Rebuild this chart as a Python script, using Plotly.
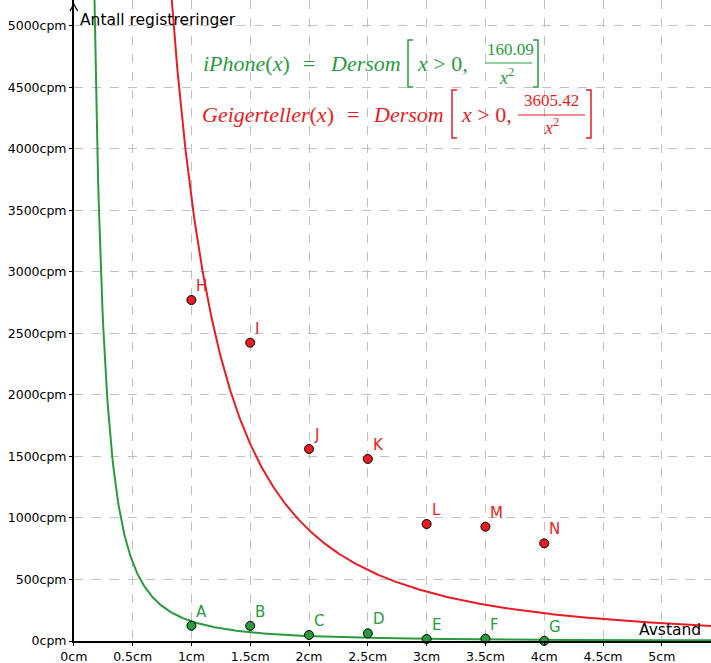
import numpy as np
import plotly.graph_objects as go

# ---------------- data ----------------
iphone_labels = ["A", "B", "C", "D", "E", "F", "G"]
iphone_x = [1.0, 1.5, 2.0, 2.5, 3.0, 3.5, 4.0]
iphone_y = [124, 123, 49, 62, 16, 19, 1]

geiger_labels = ["H", "I", "J", "K", "L", "M", "N"]
geiger_x = [1.0, 1.5, 2.0, 2.5, 3.0, 3.5, 4.0]
geiger_y = [2772, 2425, 1561, 1480, 951, 929, 794]

iphone_k = 160.09
geiger_k = 3605.42

x_ticks = [0, 0.5, 1, 1.5, 2, 2.5, 3, 3.5, 4, 4.5, 5]
x_ticktext = ["0cm", "0.5cm", "1cm", "1.5cm", "2cm", "2.5cm", "3cm", "3.5cm", "4cm", "4.5cm", "5cm"]
y_ticks = [0, 500, 1000, 1500, 2000, 2500, 3000, 3500, 4000, 4500, 5000]
y_ticktext = [f"{v}cpm" for v in y_ticks]

# ---------------- style ----------------
GREEN = "rgb(40,155,60)"
RED = "rgb(232,28,36)"
W, H = 711, 663
X0PX, Y0PX = 73.8, 22.0  # axis origin offset (left / bottom)
XMAX, YMAX = 5.418, 5211

xs_g = np.linspace(np.sqrt(iphone_k / YMAX) * 0.98, XMAX, 800)
xs_r = np.linspace(np.sqrt(geiger_k / YMAX) * 0.98, XMAX, 800)

fig = go.Figure()
fig.add_trace(go.Scatter(x=xs_g, y=iphone_k / xs_g**2, mode="lines",
                         line=dict(color=GREEN, width=2), hoverinfo="skip"))
fig.add_trace(go.Scatter(x=xs_r, y=geiger_k / xs_r**2, mode="lines",
                         line=dict(color=RED, width=2), hoverinfo="skip"))
fig.add_trace(go.Scatter(x=iphone_x, y=iphone_y, mode="markers", cliponaxis=False,
                         marker=dict(size=9, color=GREEN, line=dict(color="black", width=1))))
fig.add_trace(go.Scatter(x=geiger_x, y=geiger_y, mode="markers", cliponaxis=False,
                         marker=dict(size=9, color=RED, line=dict(color="black", width=1))))


def px(xp):
    return xp / W


def py(yp):
    return 1 - yp / H


ann = []
shapes = []
SERIF = "Liberation Serif"

# point labels
for labels, xs, ys, col in [(iphone_labels, iphone_x, iphone_y, GREEN),
                            (geiger_labels, geiger_x, geiger_y, RED)]:
    for lab, xv, yv in zip(labels, xs, ys):
        ann.append(dict(text=lab, x=xv, y=yv, xref="x", yref="y", showarrow=False,
                        xanchor="left", yanchor="bottom", xshift=3, yshift=3,
                        font=dict(family="DejaVu Sans", size=15, color=col)))


def txt(s, x, y, color, size=22, xanchor="left", family=SERIF):
    ann.append(dict(text=s, x=px(x), y=py(y), xref="paper", yref="paper",
                    xanchor=xanchor, yanchor="middle", showarrow=False,
                    font=dict(family=family, size=size, color=color)))


def bracket(x1, x2, ytop, ybot, color, left=True):
    if left:
        path = f"M {px(x2)} {py(ytop)} L {px(x1)} {py(ytop)} L {px(x1)} {py(ybot)} L {px(x2)} {py(ybot)}"
    else:
        path = f"M {px(x1)} {py(ytop)} L {px(x2)} {py(ytop)} L {px(x2)} {py(ybot)} L {px(x1)} {py(ybot)}"
    shapes.append(dict(type="path", path=path, xref="paper", yref="paper",
                       line=dict(color=color, width=1.5)))


def hline(x1, x2, y, color):
    shapes.append(dict(type="line", x0=px(x1), x1=px(x2), y0=py(y), y1=py(y),
                       xref="paper", yref="paper", line=dict(color=color, width=1.2)))


# iPhone formula
txt("<i>iPhone</i>(<i>x</i>)", 201, 64, GREEN)
txt("=", 301, 64, GREEN)
txt("<i>Dersom</i>", 328, 64, GREEN)
bracket(408, 413, 40, 87, GREEN, left=True)
txt("<i>x</i> > 0,", 415, 64, GREEN)
txt("160.09", 510, 50, GREEN, size=17, xanchor="center")
hline(485, 532, 63, GREEN)
txt("<i>x</i><sup>2</sup>", 506, 76, GREEN, size=18, xanchor="center")
bracket(533, 538, 40, 87, GREEN, left=False)

# Geigerteller formula
txt("<i>Geigerteller</i>(<i>x</i>)", 200, 114, RED)
txt("=", 345, 114, RED)
txt("<i>Dersom</i>", 371, 114, RED)
bracket(452, 457, 90, 138, RED, left=True)
txt("<i>x</i> > 0,", 459, 114, RED)
txt("3605.42", 551, 100, RED, size=17, xanchor="center")
hline(518, 585, 115, RED)
txt("<i>x</i><sup>2</sup>", 551, 127, RED, size=18, xanchor="center")
bracket(586, 591, 90, 138, RED, left=False)

# axis titles
txt("Antall registreringer", 78, 20, "black", size=15.5, family="DejaVu Sans")
txt("Avstand", 703, 630, "black", size=15.5, xanchor="right", family="DejaVu Sans")

# y-axis arrow head
shapes.append(dict(type="path",
                   path=f"M {px(X0PX-3.8)} {py(11)} L {px(X0PX)} {py(4)} L {px(X0PX+3.8)} {py(11)}",
                   xref="paper", yref="paper", line=dict(color="black", width=1.3)))

axis_common = dict(showgrid=True, gridcolor="rgb(192,192,192)", griddash="dash", gridwidth=1,
                   zeroline=False, showline=True, linecolor="black", linewidth=1.5,
                   ticks="outside", ticklen=3, tickcolor="black", automargin=False,
                   tickfont=dict(family="DejaVu Sans", size=12.5, color="black"))

fig.update_layout(
    width=W, height=H,
    margin=dict(l=0, r=0, t=0, b=0, autoexpand=False),
    paper_bgcolor="white", plot_bgcolor="white",
    showlegend=False,
    annotations=ann, shapes=shapes,
    xaxis=dict(domain=[X0PX / W, 1], range=[0, XMAX], tickvals=x_ticks, ticktext=x_ticktext,
               **axis_common),
    yaxis=dict(domain=[Y0PX / H, 1], range=[0, YMAX], tickvals=y_ticks, ticktext=y_ticktext,
               **axis_common),
)

fig.write_html("out.html", config={"displayModeBar": False},
               post_script="document.body.style.margin='0';document.body.style.overflow='hidden';")
